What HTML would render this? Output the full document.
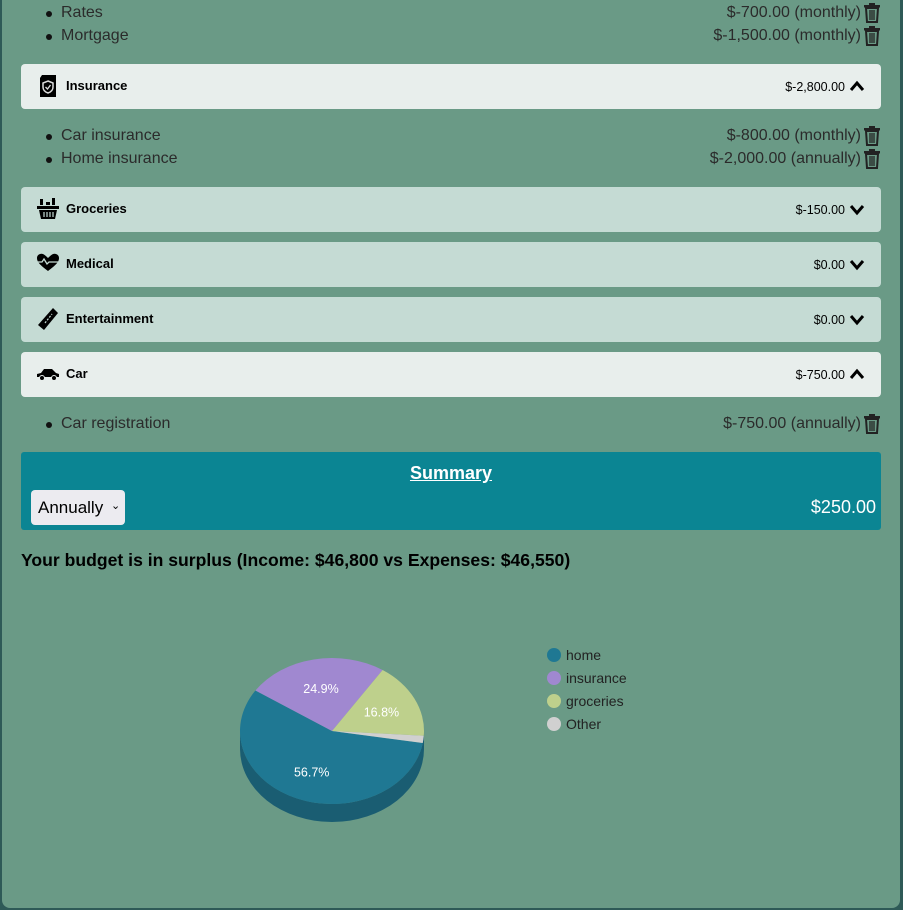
<!DOCTYPE html>
<html><head><meta charset="utf-8">
<style>
body{margin:0;width:903px;height:910px;overflow:hidden;background:#2e5a57;font-family:"Liberation Sans",sans-serif;}
#page{position:absolute;left:2px;top:-10px;width:898px;height:918px;background:#6a9a86;border-radius:0 0 8px 8px;}
.abs{position:absolute;}
.item{position:absolute;left:0;width:881px;height:23px;font-size:16px;color:#2b2b2b;}
.item .name{position:absolute;left:61px;top:2px;}
.item .dot{position:absolute;left:46px;top:9px;width:6px;height:6px;border-radius:50%;background:#111;}
.item .amt{position:absolute;right:20px;top:2px;}
.item .trash{position:absolute;right:0;top:1px;width:18px;height:20px;}
.hdr{position:absolute;left:21px;width:860px;height:45px;border-radius:4px;}
.hdr .t{position:absolute;left:45px;top:14px;font-size:13px;font-weight:bold;color:#000;}
.hdr .v{position:absolute;right:36px;top:16px;font-size:12.5px;color:#000;}
.hdr .chev{position:absolute;right:16px;top:15px;width:16px;height:14px;}
.hdr .ic{position:absolute;left:15px;top:9px;width:24px;height:26px;}
.light{background:#e8eeec;}
.mid{background:#c5dbd4;}
</style></head><body>
<div id="page"></div>
<svg width="0" height="0" style="position:absolute">
<defs>
<symbol id="trash" viewBox="0 0 18 20"><rect x="1" y="2" width="16" height="2.5" fill="#222"/><rect x="6" y="0" width="6" height="2.5" fill="#222"/><path d="M3 5 h12 l-1 14 h-10z" fill="none" stroke="#222" stroke-width="2"/><path d="M7 7v10M9 7v10M11 7v10" stroke="#222" stroke-width="1.3"/></symbol>
<symbol id="up" viewBox="0 0 16 14"><path d="M2 11 L8 4 L14 11" fill="none" stroke="#000" stroke-width="3"/></symbol>
<symbol id="down" viewBox="0 0 16 14"><path d="M2 4 L8 11 L14 4" fill="none" stroke="#000" stroke-width="3"/></symbol>
</defs></svg>

<div class="item" style="top:2px"><span class="dot"></span><span class="name">Rates</span><span class="amt">$-700.00 (monthly)</span><svg class="trash"><use href="#trash"/></svg></div>
<div class="item" style="top:25px"><span class="dot"></span><span class="name">Mortgage</span><span class="amt">$-1,500.00 (monthly)</span><svg class="trash"><use href="#trash"/></svg></div>

<div class="hdr light" style="top:64px">
<svg class="ic" viewBox="0 0 24 26"><path d="M6 2h14v22H4V5z" fill="#000"/><path d="M12 8l5 2v4c0 3-2 5-5 6c-3-1-5-3-5-6v-4z" fill="none" stroke="#ddd" stroke-width="1.5"/><path d="M9.5 14l2 2 3-4" fill="none" stroke="#ddd" stroke-width="1.3"/></svg>
<span class="t">Insurance</span><span class="v">$-2,800.00</span><svg class="chev"><use href="#up"/></svg></div>
<div class="item" style="top:125px"><span class="dot"></span><span class="name">Car insurance</span><span class="amt">$-800.00 (monthly)</span><svg class="trash"><use href="#trash"/></svg></div>
<div class="item" style="top:148px"><span class="dot"></span><span class="name">Home insurance</span><span class="amt">$-2,000.00 (annually)</span><svg class="trash"><use href="#trash"/></svg></div>

<div class="hdr mid" style="top:187px">
<svg class="ic" viewBox="0 0 24 26"><rect x="4" y="3" width="3" height="6" fill="#000"/><rect x="10" y="6" width="4" height="3" fill="#000"/><rect x="16" y="2" width="3" height="7" fill="#000"/><rect x="1" y="10" width="22" height="3" fill="#000"/><path d="M3 14h18l-2 9H5z" fill="#000"/><path d="M8 16v5M11 16v5M14 16v5M17 16v5" stroke="#c5dbd4" stroke-width="1.2"/></svg>
<span class="t">Groceries</span><span class="v">$-150.00</span><svg class="chev"><use href="#down"/></svg></div>
<div class="hdr mid" style="top:242px">
<svg class="ic" viewBox="0 0 24 26"><path d="M12 20C4 14 1 11 1 7c0-3 3-5 6-4 2 1 4 3 5 4 1-1 3-3 5-4 3-1 6 1 6 4 0 4-3 7-11 13z" fill="#000"/><path d="M1 11h5l2-3 3 5 2-2h10" stroke="#c5dbd4" stroke-width="1.3" fill="none"/></svg>
<span class="t">Medical</span><span class="v">$0.00</span><svg class="chev"><use href="#down"/></svg></div>
<div class="hdr mid" style="top:297px">
<svg class="ic" viewBox="0 0 24 26"><path d="M17 2l5 5L8 24l-6-5z" fill="#000"/><path d="M9 17l7-9" stroke="#c5dbd4" stroke-width="1.2" stroke-dasharray="2 1.5"/></svg>
<span class="t">Entertainment</span><span class="v">$0.00</span><svg class="chev"><use href="#down"/></svg></div>
<div class="hdr light" style="top:352px">
<svg class="ic" viewBox="0 0 24 26"><path d="M1 16v-3l4-1 3-4h8l4 4 3 1v3z" fill="#000"/><circle cx="6" cy="17" r="2.5" fill="#000" stroke="#e8eeec"/><circle cx="18" cy="17" r="2.5" fill="#000" stroke="#e8eeec"/></svg>
<span class="t">Car</span><span class="v">$-750.00</span><svg class="chev"><use href="#up"/></svg></div>
<div class="item" style="top:413px"><span class="dot"></span><span class="name">Car registration</span><span class="amt">$-750.00 (annually)</span><svg class="trash"><use href="#trash"/></svg></div>

<div class="abs" style="left:21px;top:452px;width:860px;height:78px;background:#0b8593;border-radius:3px;">
<div class="abs" style="left:0;width:860px;top:11px;text-align:center;color:#fff;font-weight:bold;font-size:18px;text-decoration:underline;">Summary</div>
<div class="abs" style="left:10px;top:38px;width:94px;height:35px;background:#ecebf0;border-radius:4px;font-size:17px;color:#000;"><span class="abs" style="left:7px;top:8px">Annually</span><span class="abs" style="left:80px;top:9px;font-size:11px">&#8964;</span></div>
<div class="abs" style="right:5px;top:45px;color:#fff;font-size:18px;">$250.00</div>
</div>
<div class="abs" style="left:21px;top:550px;font-size:17.6px;font-weight:bold;color:#000;">Your budget is in surplus (Income: $46,800 vs Expenses: $46,550)</div>

<svg id="chart" class="abs" style="left:0;top:600px" width="903" height="280"></svg>
<script>
const categories=["home","insurance","groceries","Other"];
const values=[26400,11600,7800,750];
const colors=["#1f7893","#a088d0","#bed08c","#d0d0d0"];
const svg=document.getElementById('chart');
const NS="http://www.w3.org/2000/svg";
const cx=332,cy=131,rx=92,ry=73,depth=18;
const total=values.reduce((a,b)=>a+b,0);
const startDeg=99.5;
function pt(deg,dy){const r=deg*Math.PI/180;return [cx+rx*Math.sin(r),cy-ry*Math.cos(r)+(dy||0)];}
function mk(t){return document.createElementNS(NS,t);}
const side=mk('path');
const a=pt(90),b=pt(270);
side.setAttribute('d',`M${a[0]},${a[1]} L${a[0]},${a[1]+depth} A${rx},${ry} 0 0 1 ${b[0]},${b[1]+depth} L${b[0]},${b[1]} A${rx},${ry} 0 0 0 ${a[0]},${a[1]}Z`);
side.setAttribute('fill','#1a5d72');


svg.appendChild(side);
let ang=startDeg;
values.forEach((v,i)=>{
 const sweep=v/total*360;const s=pt(ang),e=pt(ang+sweep);
 const p=mk('path');
 p.setAttribute('d',`M${cx},${cy} L${s[0]},${s[1]} A${rx},${ry} 0 ${sweep>180?1:0} 1 ${e[0]},${e[1]} Z`);
 p.setAttribute('fill',colors[i]);
 
 
 svg.appendChild(p);
 const pct=v/total*100;
 if(pct>5){const m=ang+sweep/2;const r=m*Math.PI/180;
  const t=mk('text');t.setAttribute('x',cx+rx*0.6*Math.sin(r));t.setAttribute('y',cy-ry*0.6*Math.cos(r)+5);
  t.setAttribute('text-anchor','middle');t.setAttribute('fill','#fff');t.setAttribute('font-size','12.5');t.setAttribute('font-family','Liberation Sans, sans-serif');
  t.textContent=pct.toFixed(1)+'%';
  
  
  svg.appendChild(t);}
 ang+=sweep;
});
categories.forEach((c,i)=>{
 const g=mk('g');
 
 
 const ci=mk('circle');ci.setAttribute('cx',554);ci.setAttribute('cy',55+i*23);ci.setAttribute('r',7);ci.setAttribute('fill',colors[i]);
 const t=mk('text');t.setAttribute('x',566);t.setAttribute('y',60+i*23);t.setAttribute('font-size','14');t.setAttribute('fill','#222');t.setAttribute('font-family','Liberation Sans, sans-serif');t.textContent=c;
 g.appendChild(ci);g.appendChild(t);svg.appendChild(g);
});
</script>
</body></html>
